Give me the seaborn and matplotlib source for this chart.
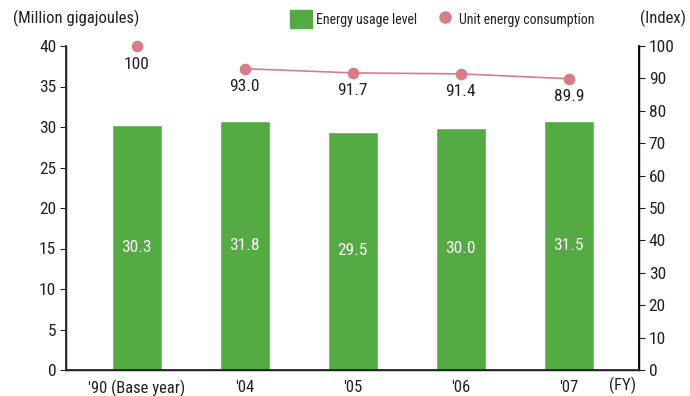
import matplotlib
matplotlib.use("Agg")
import matplotlib.pyplot as plt
import seaborn as sns
import numpy as np
import pandas as pd
from matplotlib.patches import Patch
from matplotlib.lines import Line2D
from matplotlib import font_manager

years = ["'90 (Base year)", "'04", "'05", "'06", "'07"]
energy_usage = [30.2, 30.7, 29.4, 29.9, 30.8]
energy_labels = ["30.3", "31.8", "29.5", "30.0", "31.5"]
unit_index = [100, 93.0, 91.7, 91.4, 89.9]
unit_labels = ["100", "93.0", "91.7", "91.4", "89.9"]

green = "#55ab43"
pink = "#d97c8a"

sns.set_theme(style="white")
names = {f.name for f in font_manager.fontManager.ttflist}
fam = "Roboto"
k = 0.85
for cand in ["Roboto Condensed", "Liberation Sans Narrow", "Arial Narrow"]:
    if cand in names:
        fam = cand
        k = 1.0
        break
plt.rcParams['font.family'] = [fam, 'DejaVu Sans']

fs_tick = 12.5 * k
fs_xtick = 12.0 * k
fs_ann = 12.5 * k
fs_leg = 10.0 * k
fs_title = 12.0 * k

fig = plt.figure(figsize=(6.9, 3.96), dpi=100)
ax = fig.add_axes([66/690, 1-370/396, (639-66)/690, (370-46)/396])

df = pd.DataFrame({"year": years, "usage": energy_usage})
sns.barplot(data=df, x="year", y="usage", ax=ax, color=green, saturation=1, width=0.46)
pos = np.arange(len(years))
for x, v, lab in zip(pos, energy_usage, energy_labels):
    ax.text(x, v / 2, lab, color="white", ha="center", va="center", fontsize=fs_ann)

ax.set_ylim(0, 40)
ax.set_xlim(-0.655, 4.65)
ax.set_yticks(np.arange(0, 41, 5))
ax.set_xlabel("")
ax.set_ylabel("")
ax.spines["top"].set_visible(False)
for s in ["left", "bottom", "right"]:
    ax.spines[s].set_color("black")
    ax.spines[s].set_linewidth(1.0)
ax.tick_params(axis="y", left=True, direction="out", length=4, width=0.8, colors="#222222", labelsize=fs_tick, pad=3)
ax.tick_params(axis="x", bottom=False, labelsize=fs_xtick, colors="#222222", pad=1)

ax2 = ax.twinx()
ax2.set_ylim(0, 100)
ax2.set_yticks(np.arange(0, 101, 10))
ax2.spines["top"].set_visible(False)
ax2.spines["right"].set_color("black")
ax2.tick_params(axis="y", right=True, direction="out", length=4, width=0.8, colors="#222222", labelsize=fs_tick, pad=3)
ax2.grid(False)
ax.grid(False)

line_df = pd.DataFrame({"x": pos[1:], "y": unit_index[1:]})
sns.lineplot(data=line_df, x="x", y="y", ax=ax2, color=pink, linewidth=1.2)
ax2.scatter(pos, unit_index, s=70, color=pink, zorder=5, linewidths=0, clip_on=False)
for x, v, lab in zip(pos, unit_index, unit_labels):
    ax2.annotate(lab, (x, v), xytext=(0, -13), textcoords="offset points",
                 ha="center", va="center", fontsize=fs_ann, color="#222222")
ax2.set_xlabel("")
ax2.set_ylabel("")
ax2.set_xlim(-0.655, 4.65)

fig.text(13/690, 1-18/396, "(Million gigajoules)", fontsize=fs_title, va="center", ha="left", color="#222222")
fig.text(686/690, 1-18/396, "(Index)", fontsize=fs_title, va="center", ha="right", color="#222222")
fig.text(623/690, 1-385/396, "(FY)", fontsize=fs_title, va="center", ha="center", color="#222222")

handles = [Patch(facecolor=green, edgecolor=green, label="Energy usage level"),
           Line2D([], [], marker="o", linestyle="none", markersize=8, color=pink, label="Unit energy consumption")]
fig.legend(handles=handles, loc="center left", bbox_to_anchor=(290/690, 1-19/396), ncol=2, frameon=False,
           fontsize=fs_leg, handlelength=1.6, handleheight=1.6, handletextpad=0.25, columnspacing=1.2,
           borderpad=0, borderaxespad=0, labelcolor="#222222")

fig.savefig("out.png", dpi=100)
